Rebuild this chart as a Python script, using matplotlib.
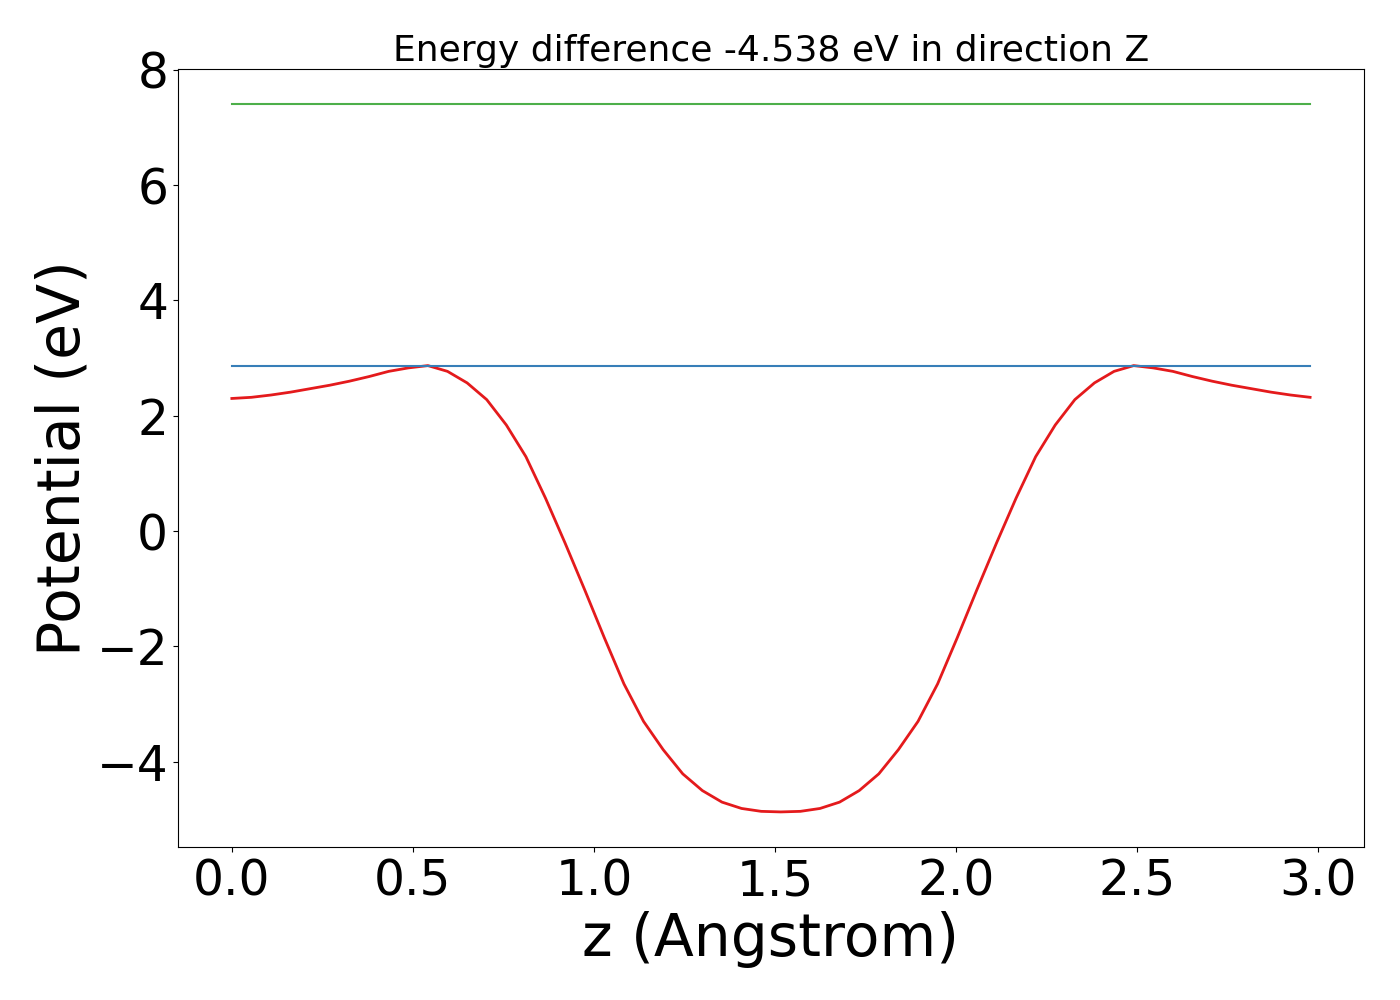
import numpy as np
import matplotlib
matplotlib.use("Agg")
import matplotlib.pyplot as plt

# z positions (Angstrom): 56 grid points
n_points = 56
dz = 0.05415
z = [i * dz for i in range(n_points)]

# Planar-averaged potential (eV), first half (i = 0..28)
half = [2.30, 2.32, 2.36, 2.41, 2.47, 2.53, 2.60, 2.68, 2.77, 2.83,
        2.87, 2.77, 2.57, 2.28, 1.84, 1.29, 0.57, -0.21, -1.02, -1.85,
        -2.65, -3.30, -3.79, -4.21, -4.50, -4.70, -4.81, -4.86, -4.87]
# second half (i = 29..55) read as mirror of the first
second = [-4.86, -4.81, -4.70, -4.50, -4.21, -3.79, -3.30, -2.65, -1.85,
          -1.02, -0.21, 0.57, 1.29, 1.84, 2.28, 2.57, 2.77, 2.87, 2.83,
          2.77, 2.68, 2.60, 2.53, 2.47, 2.41, 2.36, 2.32]
potential = half + second

vacuum_level = 7.40
max_level = 2.87

title_text = "Energy difference -4.538 eV in direction Z"

fig = plt.figure(figsize=(14, 10), dpi=100)
ax = fig.add_axes([0.1271, 0.1527, 0.8472, 0.7783])

ax.plot(z, potential, color="#e41a1c", lw=2.0)
ax.plot([z[0], z[-1]], [max_level, max_level], color="#377eb8", lw=1.5)
ax.plot([z[0], z[-1]], [vacuum_level, vacuum_level], color="#4daf4a", lw=1.5)

ax.set_title(title_text, fontsize=26)
ax.set_xlabel("z (Angstrom)", fontsize=42)
ax.set_ylabel("Potential (eV)", fontsize=42)
ax.tick_params(labelsize=35)
ax.set_yticks([-4, -2, 0, 2, 4, 6, 8])
ax.set_xticks([0.0, 0.5, 1.0, 1.5, 2.0, 2.5, 3.0])

fig.savefig("out.png", dpi=100)
